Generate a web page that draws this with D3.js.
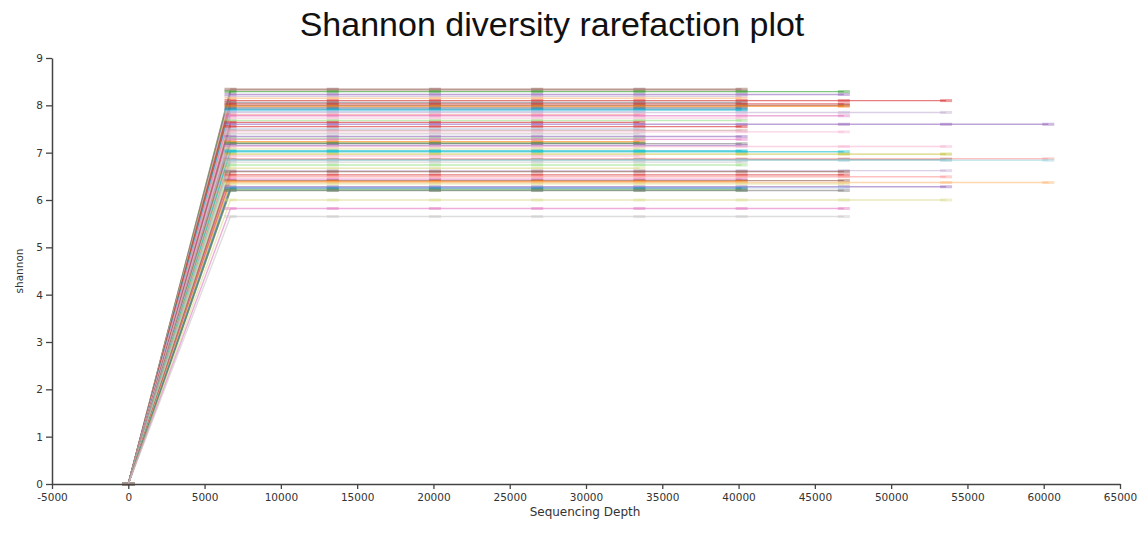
<!DOCTYPE html>
<html>
<head>
<meta charset="utf-8">
<script src="https://cdn.jsdelivr.net/npm/d3@7"></script>
<style>
    body { margin: 0; background: #fff; }
    svg { display: block; }
</style>
</head>
<body>
<svg id="chart"></svg>
<script>
// rarefaction depths (first point of every sample is the origin)
var depths = [0, 6700, 13400, 20100, 26800, 33500, 40200, 46900, 53600, 60300];

// one flat shannon value per sample
var sampleShannon = [
    8.34, 8.31, 8.29, 8.23, 8.19, 8.15, 8.10, 8.06, 8.03, 8.00,
    7.98, 7.95, 7.92, 7.90, 7.87, 7.85, 7.80, 7.78, 7.73, 7.68,
    7.64, 7.60, 7.55, 7.50, 7.47, 7.44, 7.40, 7.34, 7.30, 7.28,
    7.23, 7.20, 7.19, 7.15, 7.13, 7.08, 7.04, 7.02, 6.97, 6.93,
    6.87, 6.85, 6.84, 6.80, 6.74, 6.67, 6.62, 6.60, 6.53, 6.49,
    6.44, 6.41, 6.39, 6.37, 6.34, 6.28, 6.26, 6.25, 6.21, 6.20,
    6.00, 5.82, 5.65
];

// deepest depth each sample reaches
var sampleMaxDepth = [
    40200, 40200, 46900, 46900, 40200, 40200, 53600, 40200, 46900, 46900,
    46900, 40200, 40200, 40200, 33500, 53600, 33500, 46900, 40200, 40200,
    33500, 60300, 40200, 33500, 40200, 46900, 33500, 40200, 33500, 40200,
    33500, 33500, 40200, 40200, 53600, 33500, 40200, 46900, 53600, 33500,
    60300, 53600, 60300, 40200, 40200, 33500, 53600, 46900, 46900, 53600,
    40200, 46900, 40200, 60300, 46900, 53600, 46900, 40200, 40200, 46900,
    53600, 46900, 46900
];

var sampleColor = [
    "#8c564b", "#c49c94", "#2ca02c", "#9467bd", "#c5b0d5", "#ffbb78", "#d62728", "#7f7f7f", "#d62728", "#8c564b",
    "#ff7f0e", "#7f7f7f", "#1f77b4", "#17becf", "#aec7e8", "#c5b0d5", "#ff9896", "#e377c2", "#f7b6d2", "#98df8a",
    "#d62728", "#9467bd", "#d62728", "#aec7e8", "#c49c94", "#f7b6d2", "#c7c7c7", "#9467bd", "#98df8a", "#e377c2",
    "#ff7f0e", "#2ca02c", "#7f7f7f", "#9467bd", "#f7b6d2", "#dbdb8d", "#17becf", "#17becf", "#bcbd22", "#f7b6d2",
    "#ff9896", "#7f7f7f", "#9edae5", "#c7c7c7", "#98df8a", "#dbdb8d", "#c5b0d5", "#8c564b", "#d62728", "#ff9896",
    "#e377c2", "#8c564b", "#ff7f0e", "#ffbb78", "#dbdb8d", "#9467bd", "#aec7e8", "#1f77b4", "#2ca02c", "#7f7f7f",
    "#dbdb8d", "#e377c2", "#c7c7c7"
];

var xTicks = d3.range(-5000, 65001, 5000);
var yTicks = [0, 1, 2, 3, 4, 5, 6, 7, 8, 9];

function plotChart(svgWidth, svgHeight, tag_id) {

    /*
        BUILD SERIES
    */

    var samples = [];
    for (var i = 0; i < sampleShannon.length; i++) {
        var pts = [];
        for (var j = 0; j < depths.length; j++) {
            if (depths[j] > sampleMaxDepth[i]) break;
            pts.push({depth: depths[j], value: j == 0 ? 0 : sampleShannon[i]});
        }
        samples.push({color: sampleColor[i], points: pts});
    }

    /*
        SCALES AND AXIS
    */

    var xScale = d3.scaleLinear()
        .domain([-5000, 65000])
        .range([52, 1120]);

    var yScale = d3.scaleLinear()
        .domain([0, 9])
        .range([484, 58]);

    var svg = d3.select(tag_id)
        .attr("width", svgWidth)
        .attr("height", svgHeight);

    var line = d3.line()
        .x(function(d) {return xScale(d.depth)})
        .y(function(d) {return yScale(d.value)});

    /*
        LINES AND MARKERS
    */

    var g = svg.append("g");

    samples.forEach(function(s) {
        g.append("path")
            .datum(s.points)
            .attr("fill", "none")
            .attr("stroke", s.color)
            .attr("stroke-opacity", 0.6)
            .attr("stroke-width", 1.4)
            .attr("d", line);

        // short dash at every rarefaction point
        g.selectAll(null)
            .data(s.points)
            .enter()
            .append("line")
            .attr("x1", function(d) {return xScale(d.depth) - 6})
            .attr("x2", function(d) {return xScale(d.depth) + 6})
            .attr("y1", function(d) {return yScale(d.value)})
            .attr("y2", function(d) {return yScale(d.value)})
            .attr("stroke", s.color)
            .attr("stroke-opacity", function(d) {return d.depth == 0 ? 0.15 : 0.45})
            .attr("stroke-width", 3);
    });

    /*
        AXES
    */

    // plain hyphen for negatives, like the original
    var x_axis = d3.axisBottom(xScale)
        .tickValues(xTicks)
        .tickSize(5)
        .tickSizeOuter(0)
        .tickFormat(function(d) {return String(d)});

    var y_axis = d3.axisLeft(yScale)
        .tickValues(yTicks)
        .tickSize(6)
        .tickSizeOuter(0);

    var gx = svg.append("g")
        .attr("transform", "translate(0,484)")
        .call(x_axis);

    var gy = svg.append("g")
        .attr("transform", "translate(52,0)")
        .call(y_axis);

    [gx, gy].forEach(function(ax) {
        ax.select(".domain").attr("stroke", "#444").attr("stroke-width", 1.5);
        ax.selectAll(".tick line").attr("stroke", "#444").attr("stroke-width", 1.3);
        ax.selectAll(".tick text")
            .attr("fill", "#333")
            .style("font-family", "DejaVu Sans")
            .style("font-size", "10.5px");
    });
    gx.selectAll(".tick text").attr("dy", "0.9em");
    gy.selectAll(".tick text").attr("x", -9);

    /*
        TEXTS
    */

    svg.append("text")
        .attr("x", 552)
        .attr("y", 36)
        .style("text-anchor", "middle")
        .style("font-family", "Liberation Sans, Arial")
        .style("font-size", "34px")
        .attr("fill", "#111")
        .text("Shannon diversity rarefaction plot");

    svg.append("text")
        .attr("transform", "rotate(-90)")
        .attr("x", -271)
        .attr("y", 23)
        .style("text-anchor", "middle")
        .style("font-family", "DejaVu Sans")
        .style("font-size", "10.5px")
        .attr("fill", "#333")
        .text("shannon");

    svg.append("text")
        .attr("x", 585)
        .attr("y", 516)
        .style("text-anchor", "middle")
        .style("font-family", "DejaVu Sans")
        .style("font-size", "12px")
        .attr("fill", "#333")
        .text("Sequencing Depth");
}

document.addEventListener('DOMContentLoaded', function(e) {
    plotChart(1140, 541, "#chart");
});
</script>
</body>
</html>
